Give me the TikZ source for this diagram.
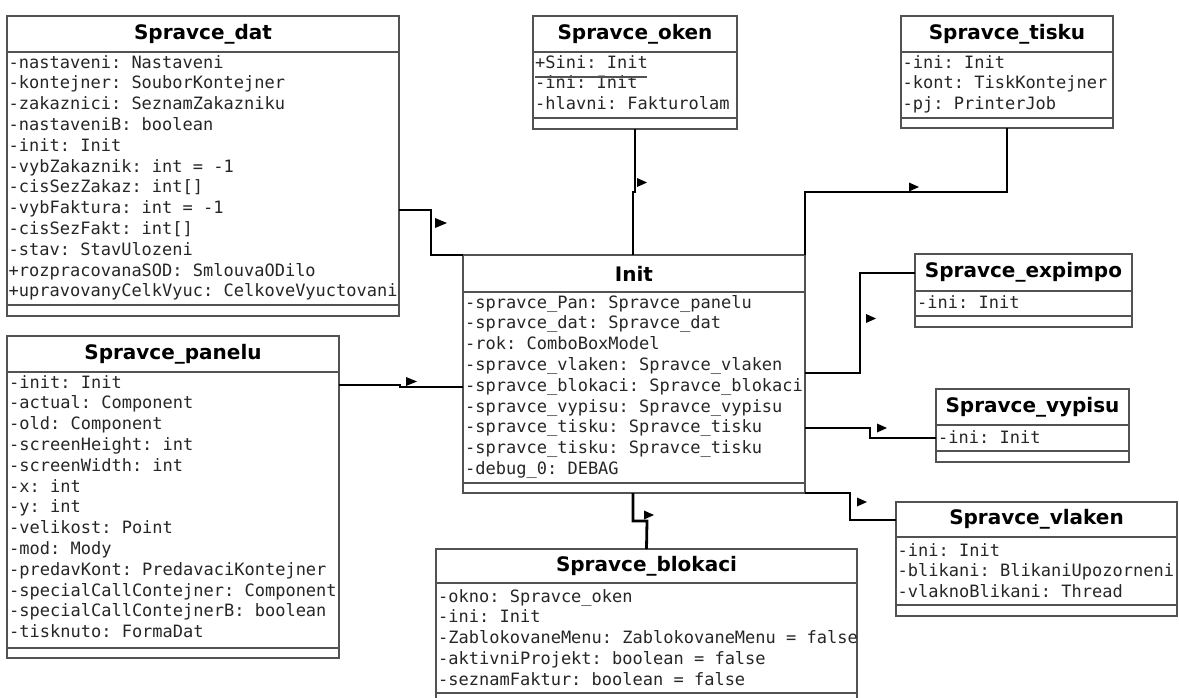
\documentclass[tikz,border=0pt]{standalone}
\usepackage{fontspec}
\setsansfont{DejaVu Sans}
\setmonofont{DejaVu Sans Mono}
\usetikzlibrary{fit}
\tikzset{
  box/.style={draw=black!68, line width=1.6pt, inner sep=0pt, outer sep=0pt, fill=white},
  sepline/.style={draw=black!68, line width=1.6pt},
  classtitle/.style={font=\sffamily\bfseries\fontsize{20}{24}\selectfont, inner sep=0pt, text=black},
  attr/.style={font=\ttfamily\fontsize{17}{20}\selectfont, text=black!85, anchor=base west, inner sep=0pt},
  conn/.style={draw=black, line width=2.8pt},
  navtip/.style={fill=black},
}
\begin{document}
\begin{tikzpicture}[x=1pt,y=-1pt]
\useasboundingbox (0,0) rectangle (1179,697);
\clip (0,0) rectangle (1179,697);
\fill[white] (0,0) rectangle (1179,697);

% ---------- Spravce_dat
\node[box, fit={(7,16) (399,316)}] (dat) {};
\draw[sepline] (dat.west |- 0,52) -- (dat.east |- 0,52);
\draw[sepline] (dat.west |- 0,305) -- (dat.east |- 0,305);
\node[classtitle] (dat-t) at (203,34) {Spravce\_dat};
\foreach \t [count=\i] in {-nastaveni: Nastaveni,-kontejner: SouborKontejner,-zakaznici: SeznamZakazniku,-nastaveniB: boolean,-init: Init,-vybZakaznik: int = -1,-cisSezZakaz: int[],-vybFaktura: int = -1,-cisSezFakt: int[],-stav: StavUlozeni,+rozpracovanaSOD: SmlouvaODilo,+upravovanyCelkVyuc: CelkoveVyuctovani}
  \node[attr] (dat-\i) at (8.5,{68+20.8*(\i-1)}) {\t};

% ---------- Spravce_oken
\node[box, fit={(533,16) (737,129)}] (oken) {};
\draw[sepline] (oken.west |- 0,52) -- (oken.east |- 0,52);
\draw[sepline] (oken.west |- 0,118) -- (oken.east |- 0,118);
\node[classtitle] (oken-t) at (635,34) {Spravce\_oken};
\foreach \t [count=\i] in {+Sini: Init,-ini: Init,-hlavni: Fakturolam}
  \node[attr] (oken-\i) at (535,{68+20.8*(\i-1)}) {\t};
\draw[sepline, line width=1.2pt] (535,77) -- (647,77);

% ---------- Spravce_tisku
\node[box, fit={(901,16) (1113,128)}] (tisku) {};
\draw[sepline] (tisku.west |- 0,52) -- (tisku.east |- 0,52);
\draw[sepline] (tisku.west |- 0,118) -- (tisku.east |- 0,118);
\node[classtitle] (tisku-t) at (1007,34) {Spravce\_tisku};
\foreach \t [count=\i] in {-ini: Init,-kont: TiskKontejner,-pj: PrinterJob}
  \node[attr] (tisku-\i) at (902.5,{68+20.8*(\i-1)}) {\t};

% ---------- Init
\node[box, fit={(463,255) (805,493)}] (init) {};
\draw[sepline] (init.west |- 0,292) -- (init.east |- 0,292);
\draw[sepline] (init.west |- 0,483) -- (init.east |- 0,483);
\node[classtitle] (init-t) at (634,273.5) {Init};
\foreach \t [count=\i] in {-spravce\_Pan: Spravce\_panelu,-spravce\_dat: Spravce\_dat,-rok: ComboBoxModel,-spravce\_vlaken: Spravce\_vlaken,-spravce\_blokaci: Spravce\_blokaci,-spravce\_vypisu: Spravce\_vypisu,-spravce\_tisku: Spravce\_tisku,-spravce\_tisku: Spravce\_tisku,-debug\_0: DEBAG}
  \node[attr] (init-\i) at (465,{308+20.8*(\i-1)}) {\t};

% ---------- Spravce_expimpo
\node[box, fit={(915,254) (1132,327)}] (expimpo) {};
\draw[sepline] (expimpo.west |- 0,291) -- (expimpo.east |- 0,291);
\draw[sepline] (expimpo.west |- 0,316) -- (expimpo.east |- 0,316);
\node[classtitle] (expimpo-t) at (1023.5,272.5) {Spravce\_expimpo};
\node[attr] (expimpo-1) at (917,308) {-ini: Init};

% ---------- Spravce_vypisu
\node[box, fit={(936,389) (1129,462)}] (vypisu) {};
\draw[sepline] (vypisu.west |- 0,425) -- (vypisu.east |- 0,425);
\draw[sepline] (vypisu.west |- 0,451) -- (vypisu.east |- 0,451);
\node[classtitle] (vypisu-t) at (1032.5,407) {Spravce\_vypisu};
\node[attr] (vypisu-1) at (938,443) {-ini: Init};

% ---------- Spravce_vlaken
\node[box, fit={(896,502) (1177,616)}] (vlaken) {};
\draw[sepline] (vlaken.west |- 0,537) -- (vlaken.east |- 0,537);
\draw[sepline] (vlaken.west |- 0,605) -- (vlaken.east |- 0,605);
\node[classtitle] (vlaken-t) at (1036.5,519.5) {Spravce\_vlaken};
\foreach \t [count=\i] in {-ini: Init,-blikani: BlikaniUpozorneni,-vlaknoBlikani: Thread}
  \node[attr] (vlaken-\i) at (897.5,{556+20.8*(\i-1)}) {\t};

% ---------- Spravce_panelu
\node[box, fit={(7,336) (339,658)}] (panelu) {};
\draw[sepline] (panelu.west |- 0,372) -- (panelu.east |- 0,372);
\draw[sepline] (panelu.west |- 0,648) -- (panelu.east |- 0,648);
\node[classtitle] (panelu-t) at (173,354) {Spravce\_panelu};
\foreach \t [count=\i] in {-init: Init,-actual: Component,-old: Component,-screenHeight: int,-screenWidth: int,-x: int,-y: int,-velikost: Point,-mod: Mody,-predavKont: PredavaciKontejner,-specialCallContejner: Component,-specialCallContejnerB: boolean,-tisknuto: FormaDat}
  \node[attr] (panelu-\i) at (9,{388+20.8*(\i-1)}) {\t};

% ---------- Spravce_blokaci
\node[box, fit={(436,549) (857,705)}] (blokaci) {};
\draw[sepline] (blokaci.west |- 0,583) -- (blokaci.east |- 0,583);
\draw[sepline] (blokaci.west |- 0,693) -- (blokaci.east |- 0,693);
\node[classtitle] (blokaci-t) at (646.5,566) {Spravce\_blokaci};
\foreach \t [count=\i] in {-okno: Spravce\_oken,-ini: Init,-ZablokovaneMenu: ZablokovaneMenu = false,-aktivniProjekt: boolean = false,-seznamFaktur: boolean = false}
  \node[attr] (blokaci-\i) at (438,{602+20.8*(\i-1)}) {\t};

% ---------- connectors
\draw[conn] (dat.east |- 0,210) -| (431,255) -- (init.north west);
\fill[navtip] (435,218) -- (447,223) -- (435,228) -- cycle;

\draw[conn] (panelu.east |- 0,385) -- (400,385) -- (400,387) -- (init.west |- 0,387);
\fill[navtip] (406,377) -- (417,381.5) -- (406,386) -- cycle;

\draw[conn] (oken.south) -- (635,192) -- (633,192) -- ([xshift=-1pt]init.north);
\fill[navtip] (637,178) -- (647,182.5) -- (637,187) -- cycle;

\draw[conn] (tisku.south) |- (805,192) -- (init.north east);
\fill[navtip] (909,182.5) -- (919,187) -- (909,191.5) -- cycle;

\draw[conn] (expimpo.west |- 0,273) -| (860,373) -- (init.east |- 0,373);
\fill[navtip] (866,314) -- (876,318.5) -- (866,323) -- cycle;

\draw[conn] (init.east |- 0,428) -| (870,438) -- (vypisu.west |- 0,438);
\fill[navtip] (877,423.5) -- (887,428) -- (877,432.5) -- cycle;

\draw[conn] (init.south east) -| (850,520) -- (vlaken.west |- 0,520);
\fill[navtip] (857,497.5) -- (867,502) -- (857,506.5) -- cycle;

\draw[conn] ([xshift=-1pt]init.south) |- (647,521) -- (blokaci.north);
\fill[navtip] (644,510.5) -- (654,515) -- (644,519.5) -- cycle;
\end{tikzpicture}
\end{document}
